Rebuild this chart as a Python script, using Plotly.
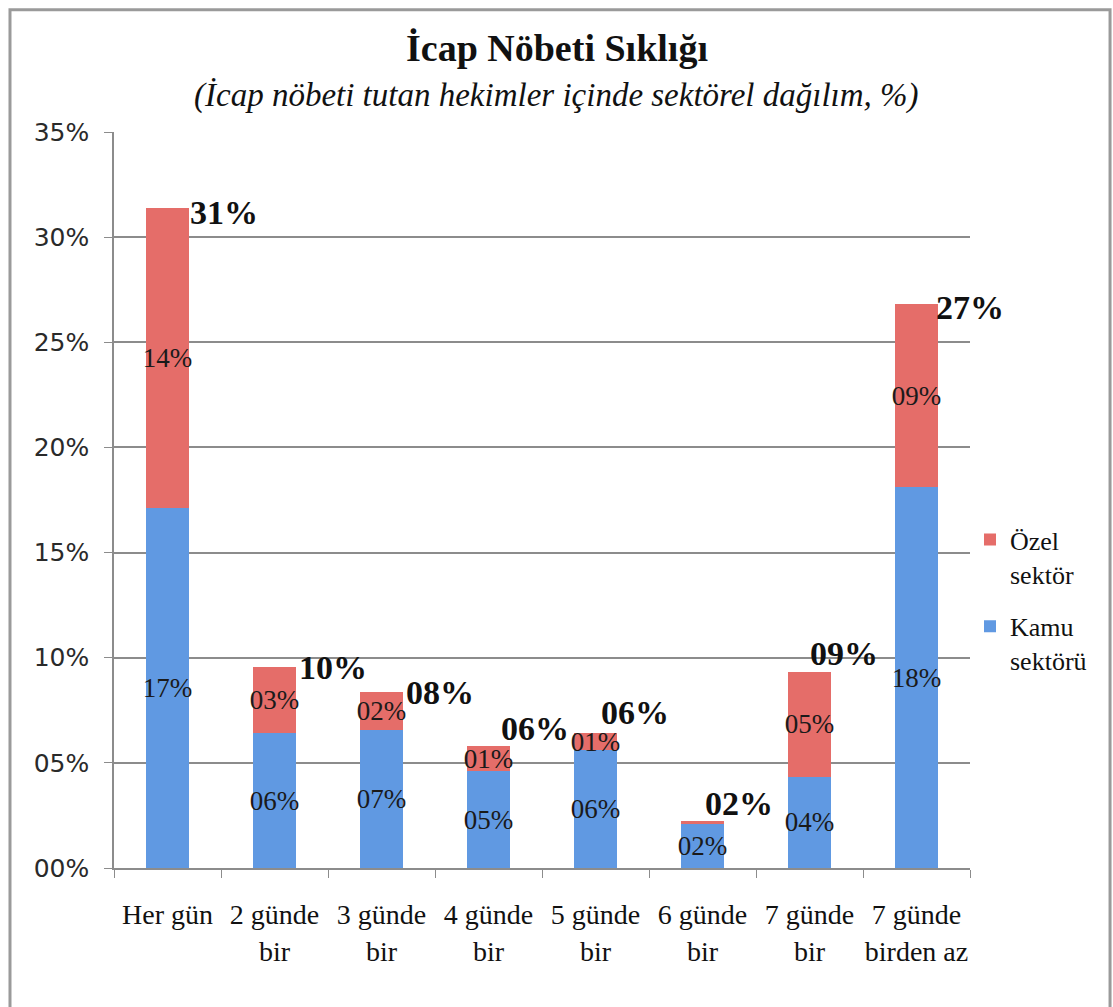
import plotly.graph_objects as go

categories = ["Her gün", "2 günde<br>bir", "3 günde<br>bir", "4 günde<br>bir",
              "5 günde<br>bir", "6 günde<br>bir", "7 günde<br>bir", "7 günde<br>birden az"]
kamu = [17.1, 6.4, 6.55, 4.6, 5.6, 2.1, 4.35, 18.1]
ozel = [14.3, 3.15, 1.8, 1.2, 0.8, 0.15, 4.95, 8.7]
y_ticks = [0, 5, 10, 15, 20, 25, 30, 35]
y_tick_labels = ["00%", "05%", "10%", "15%", "20%", "25%", "30%", "35%"]

title = "İcap Nöbeti Sıklığı"
subtitle = "(İcap nöbeti tutan hekimler içinde sektörel dağılım, %)"

# label placement tweaks (pixels) for total labels
total_xshift = [0, 2, 2, -10, -17, -20, -22, -3]
total_yshift = [-5, 0, 0, 18, 21, 17, 19, -3]

SERIF = "Liberation Serif"
SANS = "DejaVu Sans"

def seg_text(vals):
    return [f"{v:02.0f}%" if v >= 0.5 else "" for v in vals]

fig = go.Figure()
fig.add_trace(go.Bar(
    x=categories, y=kamu, name="Kamu<br>sektörü", legendgroup="kamu", legendrank=2,
    marker=dict(color="#6099e2", line=dict(width=0)),
    text=seg_text(kamu), textposition="inside", insidetextanchor="middle",
    textangle=0, textfont=dict(family=SERIF, size=27, color="#1a1a1a"),
    width=0.4,
))
fig.add_trace(go.Bar(
    x=categories, y=ozel, name="Özel<br>sektör", legendgroup="ozel", legendrank=1,
    marker=dict(color="#e56d69", line=dict(width=0)),
    text=seg_text(ozel), textposition="inside", insidetextanchor="middle",
    textangle=0, textfont=dict(family=SERIF, size=27, color="#1a1a1a"),
    width=0.4,
))

totals = [k + o for k, o in zip(kamu, ozel)]
annotations = []
for i, (c, t) in enumerate(zip(categories, totals)):
    annotations.append(dict(
        x=c, y=t, xref="x", yref="y", text=f"<b>{t:02.0f}%</b>",
        showarrow=False, xanchor="left", yanchor="middle",
        xshift=20 + total_xshift[i], yshift=total_yshift[i],
        font=dict(family=SERIF, size=34, color="#111111"),
    ))
annotations.append(dict(
    x=0.5175, y=1.114, xref="paper", yref="paper", text=f"<b>{title}</b>",
    showarrow=False, xanchor="center", yanchor="middle",
    font=dict(family=SERIF, size=38, color="#111111"),
))
annotations.append(dict(
    x=0.5175, y=1.05, xref="paper", yref="paper", text=f"<i>{subtitle}</i>",
    showarrow=False, xanchor="center", yanchor="middle",
    font=dict(family=SERIF, size=33, color="#111111"),
))

fig.update_layout(
    width=1113, height=1007,
    margin=dict(l=114, r=143, t=132, b=139),
    barmode="stack",
    plot_bgcolor="white", paper_bgcolor="white",
    showlegend=True,
    legend=dict(
        x=1.0, y=0.478, xanchor="left", yanchor="top",
        traceorder="grouped", tracegroupgap=16, valign="top",
        font=dict(family=SERIF, size=26, color="#111111"),
        bgcolor="rgba(0,0,0,0)",
    ),
    uniformtext=dict(minsize=27, mode="show"),
    annotations=annotations,
    shapes=[dict(
        type="rect", xref="paper", yref="paper",
        x0=-0.1215, x1=1.1636, y0=-0.25, y1=1.166,
        line=dict(color="#9a9a9a", width=3), fillcolor="rgba(0,0,0,0)",
        layer="below",
    )],
)
fig.update_xaxes(
    range=[-0.5, len(categories) - 0.5],
    showline=True, linecolor="#8c8c8c", linewidth=1.5,
    ticks="outside", tickson="boundaries", ticklen=8, tickcolor="#8c8c8c",
    tickangle=0, ticklabelstandoff=21,
    tickfont=dict(family=SERIF, size=28, color="#111111"),
    showgrid=False,
)
fig.update_yaxes(
    range=[0, 35], tickvals=y_ticks, ticktext=y_tick_labels,
    showline=True, linecolor="#8c8c8c", linewidth=1.5,
    ticks="outside", ticklen=8, tickcolor="#8c8c8c",
    ticklabelstandoff=10,
    showgrid=True, gridcolor="#8c8c8c", gridwidth=1.5,
    tickfont=dict(family=SANS, size=25, color="#2a2a2a"),
    zeroline=False,
)

fig.write_html("out.html", config={"displayModeBar": False},
               post_script="document.body.style.margin='0';")
